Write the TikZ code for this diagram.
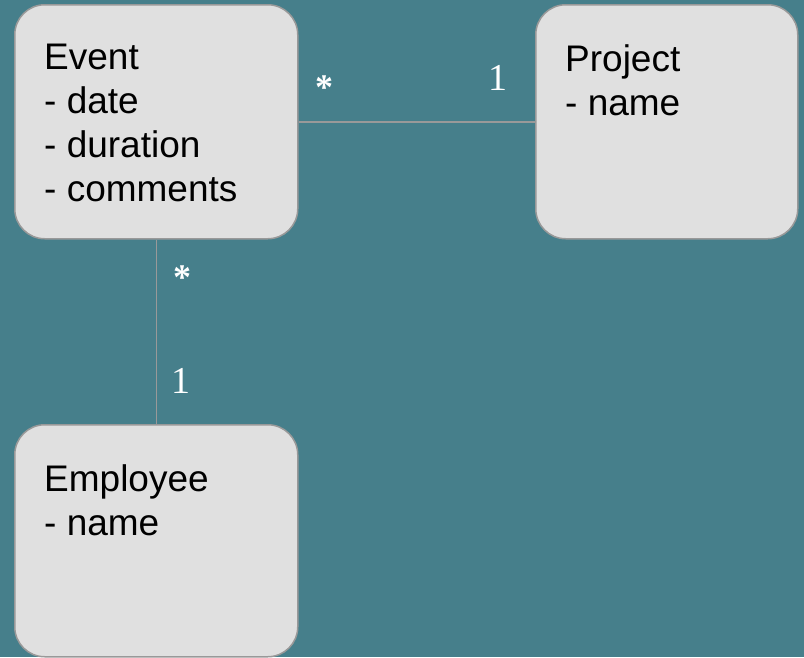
\documentclass[tikz,border=0pt]{standalone}
\usepackage{fontspec}
\setmainfont{Liberation Sans}
\newfontfamily\multfont{Liberation Serif}
\usetikzlibrary{positioning}
\definecolor{bgteal}{RGB}{70,127,139}
\definecolor{boxgray}{RGB}{224,224,224}
\definecolor{linegray}{RGB}{153,153,153}
\begin{document}
\begin{tikzpicture}[x=1pt,y=1pt]

	% Styles
	\tikzstyle{entity} = [draw=linegray,fill=boxgray,line width=1.5pt,rounded corners=30pt,minimum width=283pt,minimum height=234pt,anchor=north west,inner sep=0pt]
	\tikzstyle{attrs} = [align=left,inner sep=0pt,font=\fontsize{37}{44}\selectfont]
	\tikzstyle{mult} = [text=white,inner sep=0pt,font=\multfont\fontsize{38}{38}\selectfont]
	\tikzstyle{star} = [mult,font=\multfont\bfseries\fontsize{36}{36}\selectfont]
	\tikzstyle{assoc} = [draw=linegray,line width=1.5pt]

	% Hintergrund
	\fill[bgteal] (0,0) rectangle (804,-657);
	\useasboundingbox (0,0) rectangle (804,-657);

	% Klassen
	\node at (14,-4) [entity] (event) {};
	\node at (535,-4) [entity,minimum width=262pt] (project) {};
	\node at (14,-424) [entity,minimum height=232pt] (employee) {};

	% Attribute
	\node [attrs,below right=40pt and 30pt of event.north west] (eventattr) {Event\\- date\\- duration\\- comments};
	\node [attrs,below right=40pt and 30pt of project.north west] (projectattr) {Project\\- name};
	\node [attrs,below right=40pt and 30pt of employee.north west] (employeeattr) {Employee\\- name};

	% Assoziationen
	\draw[assoc] (event) -- (project);
	\draw[assoc] (event) -- (employee);

	% Multiplizitaeten
	\node at (324,-87.5) [star] (eventstar) {*};
	\node at (497.5,-78) [mult] (projectone) {1};
	\node at (182,-277.5) [star] (eventstarb) {*};
	\node at (181,-380.5) [mult] (employeeone) {1};

\end{tikzpicture}
\end{document}
